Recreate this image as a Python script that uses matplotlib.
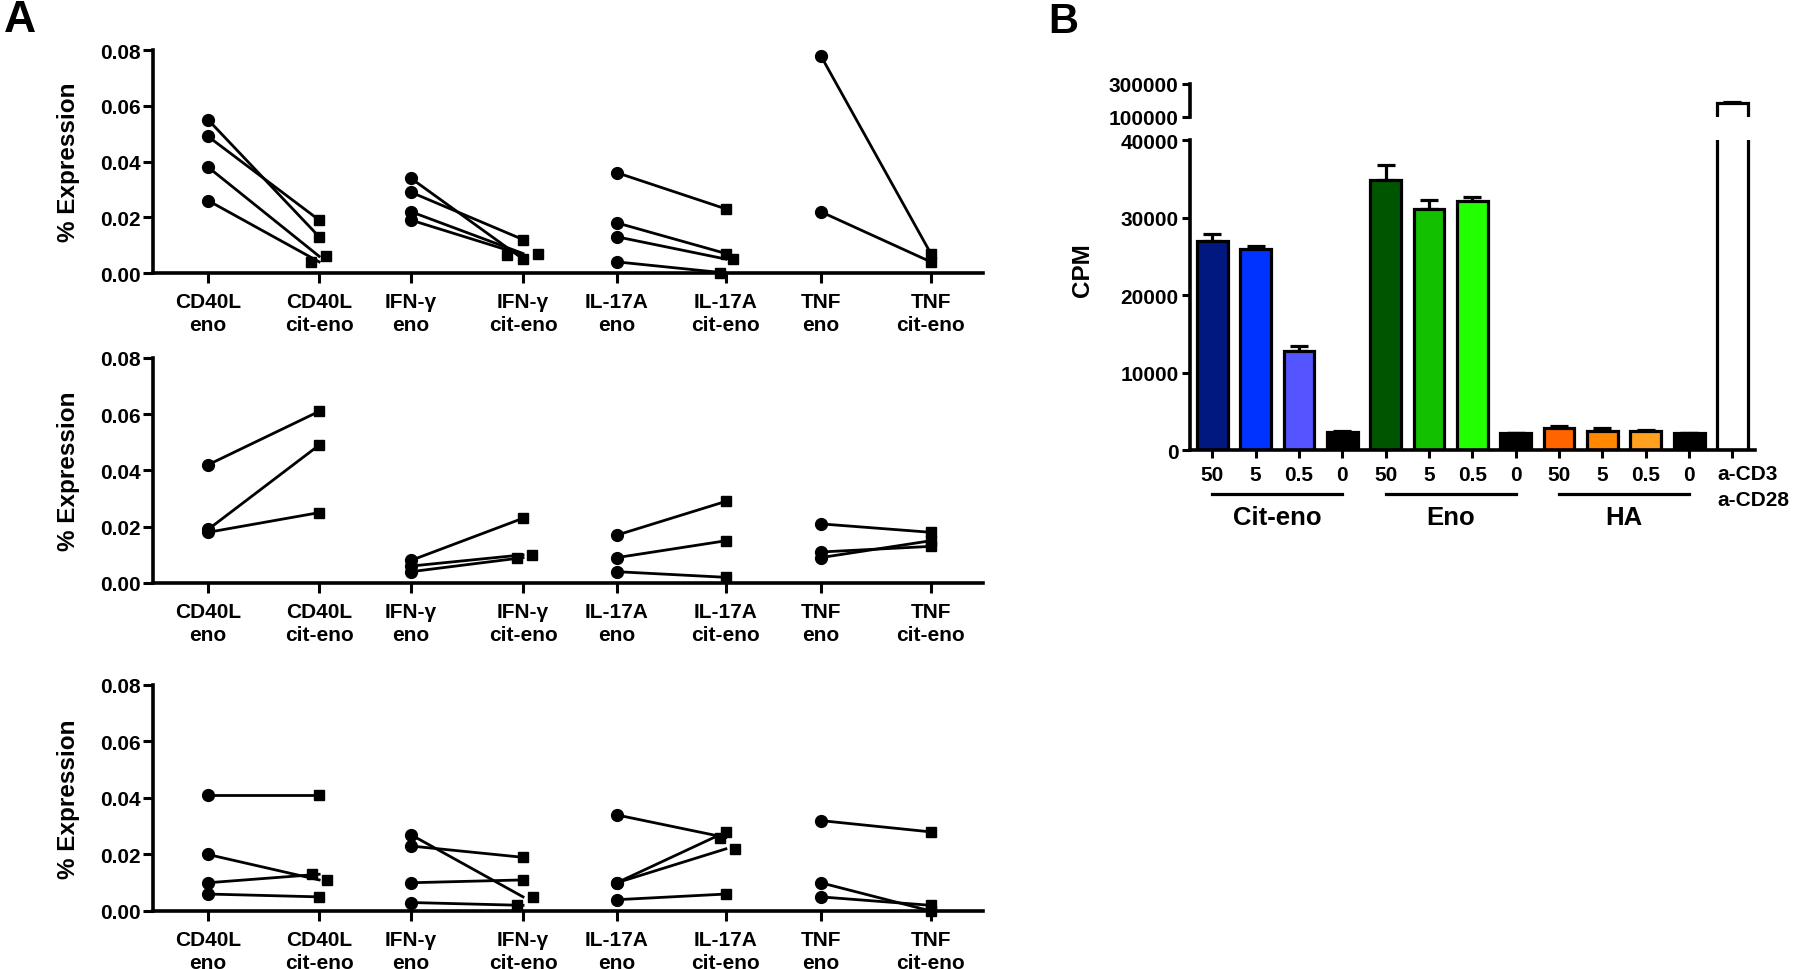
import numpy as np
import matplotlib
matplotlib.use("Agg")
import matplotlib.pyplot as plt
from matplotlib.transforms import blended_transform_factory

plt.rcParams['font.family'] = ['Liberation Sans', 'DejaVu Sans']
plt.rcParams['font.weight'] = 'bold'

# ---- panel A data: % expression, eno vs cit-eno, one list per cytokine ----
cytokines = ["CD40L", "IFN-γ", "IL-17A", "TNF"]

top_eno = [[0.055, 0.049, 0.038, 0.026], [0.034, 0.029, 0.022, 0.019],
           [0.036, 0.018, 0.013, 0.004], [0.078, 0.022]]
top_cit = [[0.013, 0.019, 0.006, 0.004], [0.005, 0.012, 0.007, 0.0065],
           [0.023, 0.007, 0.005, 0.000], [0.007, 0.004]]

mid_eno = [[0.042, 0.019, 0.018], [0.008, 0.006, 0.004],
           [0.017, 0.009, 0.004], [0.021, 0.011, 0.009]]
mid_cit = [[0.061, 0.049, 0.025], [0.023, 0.010, 0.009],
           [0.029, 0.015, 0.002], [0.018, 0.013, 0.015]]

bot_eno = [[0.041, 0.020, 0.010, 0.006], [0.027, 0.023, 0.010, 0.003],
           [0.034, 0.010, 0.010, 0.004], [0.032, 0.010, 0.005]]
bot_cit = [[0.041, 0.011, 0.013, 0.005], [0.005, 0.019, 0.011, 0.002],
           [0.026, 0.028, 0.022, 0.006], [0.028, 0.000, 0.002]]

# horizontal nudges Prism applied to overlapping squares (style only)
top_nudge = [[0, 0, 0.07, -0.08], [0, 0, 0.15, -0.16], [0, 0, 0.07, -0.06], [0, 0]]
mid_nudge = [[0, 0, 0], [0, 0.09, -0.06], [0, 0, 0], [0, 0, 0]]
bot_nudge = [[0, 0.08, -0.07, 0], [0.10, 0, 0, -0.06], [-0.06, 0, 0.09, 0], [0, 0, 0]]

# ---- panel B data: CPM ----
doses = ["50", "5", "0.5", "0"]
groups = ["Cit-eno", "Eno", "HA"]
cpm_mean = [27000, 26000, 12800, 2300,
            34900, 31100, 32100, 2200,
            2900, 2500, 2500, 2200,
            185000]
cpm_sem = [900, 350, 600, 100,
           1850, 1200, 500, 50,
           200, 300, 100, 50,
           3000]
bar_colors = ["#001880", "#0033ff", "#5555ff", "#000000",
              "#005500", "#12c000", "#22ff00", "#000000",
              "#ff6400", "#ff8800", "#ffa020", "#000000",
              "#ffffff"]

fig = plt.figure(figsize=(18, 9.7), dpi=100)

LW = 2.6
pos = [0, 1.09, 1.99, 3.09, 4.01, 5.08, 6.01, 7.09]
xlabels = []
for c in cytokines:
    xlabels += [c + "\neno", c + "\ncit-eno"]

panel_rects = [[0.085, 0.7175, 0.461, 0.2299],
               [0.085, 0.398, 0.461, 0.232],
               [0.085, 0.0598, 0.461, 0.233]]
panels = [(top_eno, top_cit, top_nudge), (mid_eno, mid_cit, mid_nudge),
          (bot_eno, bot_cit, bot_nudge)]

for rect, (eno, cit, nudge) in zip(panel_rects, panels):
    ax = fig.add_axes(rect)
    for i in range(len(cytokines)):
        x0, x1 = pos[2 * i], pos[2 * i + 1]
        for e, c, n in zip(eno[i], cit[i], nudge[i]):
            ax.plot([x0, x1], [e, c], color='k', lw=2.0, zorder=2)
            ax.plot(x0, e, 'o', color='k', ms=8.5, zorder=3, clip_on=False)
            ax.plot(x1 + n, c, 's', color='k', ms=7.2, zorder=3, clip_on=False)
    ax.set_xlim(-0.54, 7.6)
    ax.set_ylim(0, 0.08)
    ax.set_yticks([0, 0.02, 0.04, 0.06, 0.08])
    ax.set_yticklabels(["%.2f" % v for v in ax.get_yticks()])
    ax.set_xticks(pos)
    ax.set_xticklabels(xlabels, linespacing=1.25)
    for s in ['top', 'right']:
        ax.spines[s].set_visible(False)
    for s in ['left', 'bottom']:
        ax.spines[s].set_linewidth(LW)
    ax.tick_params(axis='y', length=7, width=2.2, labelsize=15, pad=2)
    ax.tick_params(axis='x', length=7, width=2.2, labelsize=15, pad=7)
    ymid = rect[1] + rect[3] / 2
    fig.text(68 / 1800, ymid, "% Expression", rotation=90, ha='center',
             va='center', fontsize=17.5, fontweight='bold')

fig.text(4 / 1800, 1.0, "A", fontsize=32, fontweight='bold', ha='left', va='top')
fig.text(1048 / 1800, 1 - 2 / 970, "B", fontsize=30, fontweight='bold',
         ha='left', va='top')

# ---- panel B: broken y axis ----
xb = np.arange(len(cpm_mean))
ax_lo = fig.add_axes([0.661, 0.535, 0.314, 0.3196])
ax_hi = fig.add_axes([0.661, 0.8784, 0.314, 0.034], sharex=ax_lo)

for ax in (ax_lo, ax_hi):
    ax.bar(xb, cpm_mean, width=0.71, color=bar_colors, edgecolor='k',
           linewidth=2.3, zorder=2)
    ax.errorbar(xb, cpm_mean, yerr=[np.zeros(len(cpm_sem)), cpm_sem],
                fmt='none', ecolor='k', elinewidth=2.3, capsize=6.8,
                capthick=2.3, zorder=1)
    for s in ['top', 'right']:
        ax.spines[s].set_visible(False)
    ax.spines['left'].set_linewidth(LW)
    ax.tick_params(axis='y', length=6, width=2.2, labelsize=15, pad=2)

ax_lo.set_xlim(-0.52, 12.52)
ax_lo.set_ylim(0, 40000)
ax_lo.set_yticks([0, 10000, 20000, 30000, 40000])
ax_lo.spines['bottom'].set_linewidth(LW)
ax_lo.set_xticks(xb)
ax_lo.set_xticklabels(doses * 3 + [""])
ax_lo.tick_params(axis='x', length=6, width=2.2, labelsize=15, pad=5)

ax_hi.set_ylim(100000, 300000)
ax_hi.set_yticks([100000, 300000])
ax_hi.spines['bottom'].set_visible(False)
ax_hi.tick_params(axis='x', bottom=False, labelbottom=False)

trans = blended_transform_factory(ax_lo.transData, ax_lo.transAxes)
for g, name in enumerate(groups):
    ax_lo.plot([4 * g, 4 * g + 3], [-0.142, -0.142], color='k', lw=2.3,
               transform=trans, clip_on=False)
    ax_lo.text(4 * g + 1.5, -0.216, name, transform=trans, ha='center',
               va='center', fontsize=18.5, fontweight='bold')
ax_lo.text(11.65, -0.045, "a-CD3\na-CD28", transform=trans, ha='left',
           va='top', fontsize=15, fontweight='bold', linespacing=1.45)

fig.text(1082 / 1800, 1 - 270 / 970, "CPM", rotation=90, ha='center',
         va='center', fontsize=17.5, fontweight='bold')

fig.savefig("out.png", dpi=100)
